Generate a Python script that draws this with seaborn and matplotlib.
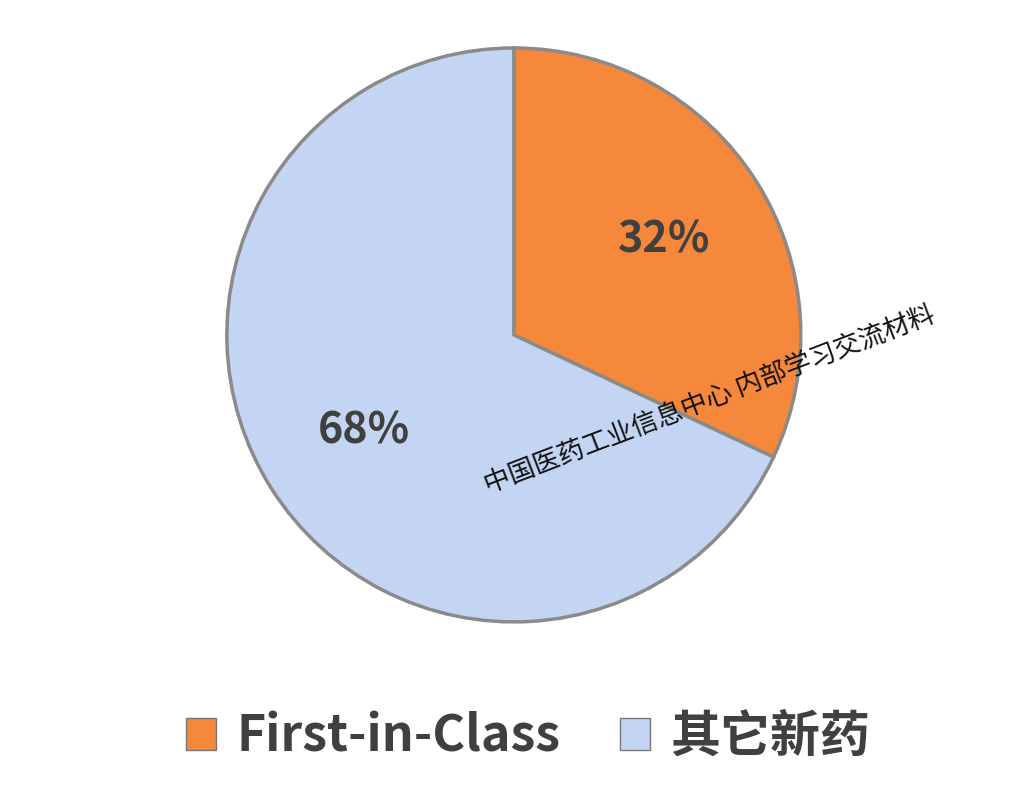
import matplotlib
matplotlib.use("Agg")
import matplotlib.pyplot as plt
import seaborn as sns
from matplotlib.patches import Patch

sns.set_theme(style="white")
plt.rcParams['font.family'] = ['Noto Sans CJK SC', 'DejaVu Sans']

categories = ["First-in-Class", "其它新药"]
values = [32, 68]
colors = ["#F5883A", "#C3D5F3"]

fig = plt.figure(figsize=(10.36, 8.10), dpi=100)
ax = fig.add_axes([0.219, 0.232, 0.554, 0.709])
wedges, texts, autotexts = ax.pie(values, colors=colors, startangle=90, counterclock=False,
                                  autopct=lambda p: f"{p:.0f}%", pctdistance=0.62,
                                  wedgeprops=dict(edgecolor="#8a8a8a", linewidth=2.5))
for t in autotexts:
    t.set_fontsize(31); t.set_fontweight("bold"); t.set_color("#404040")
ax.set_xlim(-1.0, 1.0)
ax.set_ylim(-1.0, 1.0)
ax.set_aspect("equal")

fig.text(0.685, 0.505, "中国医药工业信息中心 内部学习交流材料", rotation=21, fontsize=19,
         ha="center", va="center", color="#111111")

handles = [Patch(facecolor=c, edgecolor="#777777") for c in colors]
fig.legend(handles, categories, loc="center", bbox_to_anchor=(0.51, 0.09), ncol=2,
           frameon=False, prop=dict(size=36, weight="bold"), labelcolor="#404040",
           handlelength=0.6, handleheight=0.6, columnspacing=1.2, handletextpad=0.4)
fig.savefig("out.png", dpi=100, facecolor="white")
